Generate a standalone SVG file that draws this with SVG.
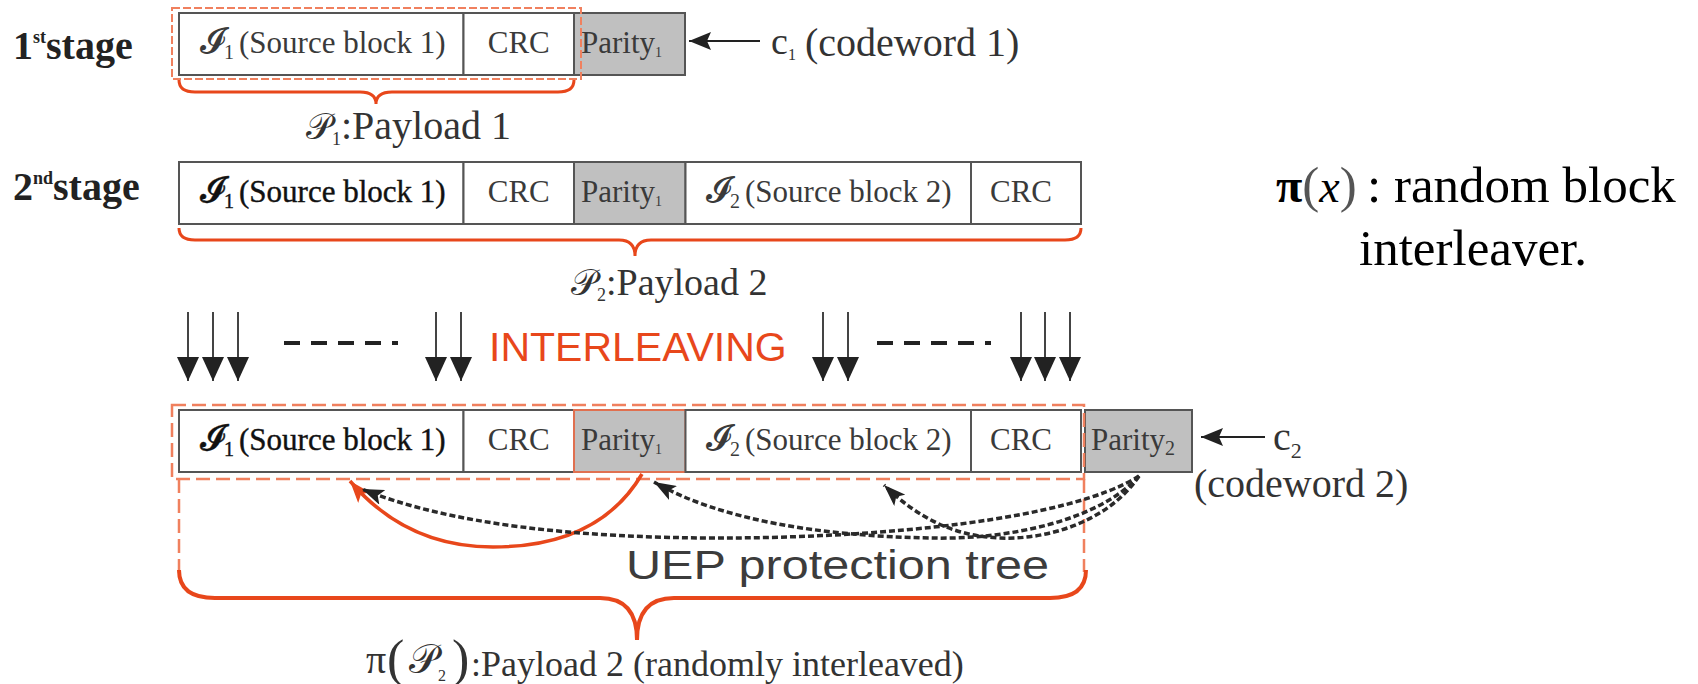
<svg xmlns="http://www.w3.org/2000/svg" width="1698" height="684" viewBox="0 0 1698 684">
<style>
.cell{fill:#fff;stroke:#555;stroke-width:2}
.par{fill:#c0c0c0;stroke:#555;stroke-width:2}
.t{font-family:"Liberation Serif",serif;font-size:31px;fill:#3a3a3a}
.tb{font-family:"Liberation Serif",serif;font-size:31px;fill:#111;stroke:#111;stroke-width:0.4}
.scr{font-family:"DejaVu Serif","DejaVu Sans",serif}
.stage{font-family:"Liberation Serif",serif;font-weight:bold;font-size:40px;fill:#222}
.lbl{font-family:"Liberation Serif",serif;fill:#333}
.brace{fill:none;stroke:#e8471b;stroke-width:3}
.dash1{fill:none;stroke:#f0805e;stroke-width:2;stroke-dasharray:8 3}
.dash2{fill:none;stroke:#f0805e;stroke-width:2.5;stroke-dasharray:14 6}
.il{stroke:#444;stroke-width:2;marker-end:url(#ah)}
.dl{stroke:#222;stroke-width:4;stroke-dasharray:16 11}
.dc{fill:none;stroke:#2a2a2a;stroke-width:3.5;stroke-dasharray:6 3;marker-end:url(#ab)}
</style>
<defs>
<marker id="ah" markerUnits="userSpaceOnUse" markerWidth="24" markerHeight="22" viewBox="0 0 24 22" refX="24" refY="11" orient="auto"><path d="M0,0 L24,11 L0,22 z" fill="#222"/></marker>
<marker id="ac" markerUnits="userSpaceOnUse" markerWidth="22" markerHeight="18" viewBox="0 0 22 18" refX="22" refY="9" orient="auto"><path d="M0,0 L22,9 L0,18 L4,9 z" fill="#222"/></marker>
<marker id="ab" markerUnits="userSpaceOnUse" markerWidth="22" markerHeight="16" viewBox="0 0 22 16" refX="22" refY="8" orient="auto"><path d="M0,0 L22,8 L0,16 L5,8 z" fill="#222"/></marker>
<marker id="ao" markerUnits="userSpaceOnUse" markerWidth="22" markerHeight="16" viewBox="0 0 22 16" refX="22" refY="8" orient="auto"><path d="M0,0 L22,8 L0,16 L5,8 z" fill="#e8471b"/></marker>
</defs>

<g id="stage1">
<text class="stage" x="13" y="59">1<tspan font-size="18" dy="-16">st</tspan><tspan dy="16">stage</tspan></text>
</g>
<g id="stage2">
<text class="stage" x="13" y="200">2<tspan font-size="18" dy="-16">nd</tspan><tspan dy="16">stage</tspan></text>
</g>

<g id="row1">
<rect class="cell" x="179" y="13" width="284.5" height="62"/>
<rect class="cell" x="463.5" y="13" width="110.5" height="62"/>
<rect class="par" x="574" y="13" width="111" height="62"/>
<text class="t" x="200" y="53"><tspan class="scr" font-size="36">𝓘</tspan><tspan x="224" font-size="20" dy="6">1</tspan><tspan x="239" dy="-6">(Source block 1)</tspan></text>
<text class="t" x="518.75" y="53" text-anchor="middle">CRC</text>
<text class="t" x="581" y="53">Parity<tspan font-size="14" dy="4">1</tspan></text>
<rect class="dash1" x="172" y="8" width="409" height="71"/>
<path class="brace" d="M179,80 Q179,92 195,92 L360,92 Q376,92 376,104 Q376,92 392,92 L558,92 Q574,92 574,80"/>
<text class="lbl" x="306" y="139" style="font-size:40px"><tspan class="scr" font-size="36">𝒫</tspan><tspan font-size="18" dy="6">1</tspan><tspan dy="-6">:Payload 1</tspan></text>
</g>

<g id="c1">
<line x1="760" y1="41" x2="689" y2="41" stroke="#222" stroke-width="2" marker-end="url(#ac)"/>
<text class="lbl" x="771" y="54" style="font-size:38px">c<tspan font-size="16" dy="6">1</tspan></text>
<text class="lbl" x="805" y="56" style="font-size:40px">(codeword 1)</text>
</g>

<g id="row2">
<rect class="cell" x="179" y="162" width="284.5" height="62"/>
<rect class="cell" x="463.5" y="162" width="110.5" height="62"/>
<rect class="par" x="574" y="162" width="111.5" height="62"/>
<rect class="cell" x="685.5" y="162" width="285.5" height="62"/>
<rect class="cell" x="971" y="162" width="110" height="62"/>
<text class="tb" x="200" y="202"><tspan class="scr" font-size="36">𝓘</tspan><tspan x="224" font-size="20" dy="6">1</tspan><tspan x="239" dy="-6">(Source block 1)</tspan></text>
<text class="t" x="518.75" y="202" text-anchor="middle">CRC</text>
<text class="t" x="581" y="202">Parity<tspan font-size="14" dy="4">1</tspan></text>
<text class="t" x="706" y="202"><tspan class="scr" font-size="36">𝓘</tspan><tspan x="730" font-size="20" dy="6">2</tspan><tspan x="745" dy="-6">(Source block 2)</tspan></text>
<text class="t" x="1021" y="202" text-anchor="middle">CRC</text>
<path class="brace" d="M179,228 Q179,240 195,240 L619,240 Q635,240 635,256 Q635,240 651,240 L1065,240 Q1081,240 1081,228"/>
<text class="lbl" x="571" y="295" style="font-size:38px"><tspan class="scr" font-size="36">𝒫</tspan><tspan font-size="18" dy="6">2</tspan><tspan dy="-6">:Payload 2</tspan></text>
</g>

<g id="pi-note">
<text x="1276" y="202" font-family="'Liberation Serif',serif" font-size="51" fill="#000"><tspan font-weight="bold" font-size="48">π</tspan><tspan fill="#555">(</tspan><tspan font-style="italic" font-size="46">x</tspan><tspan fill="#555">)</tspan><tspan x="1367">: random block</tspan></text>
<text x="1359" y="265" font-family="'Liberation Serif',serif" font-size="51" fill="#000">interleaver.</text>
</g>

<g id="interleaving">
<line class="il" x1="188" y1="312" x2="188" y2="381"/>
<line class="il" x1="213" y1="312" x2="213" y2="381"/>
<line class="il" x1="238" y1="312" x2="238" y2="381"/>
<line class="il" x1="436" y1="312" x2="436" y2="381"/>
<line class="il" x1="461" y1="312" x2="461" y2="381"/>
<line class="il" x1="823" y1="312" x2="823" y2="381"/>
<line class="il" x1="848" y1="312" x2="848" y2="381"/>
<line class="il" x1="1021" y1="312" x2="1021" y2="381"/>
<line class="il" x1="1045" y1="312" x2="1045" y2="381"/>
<line class="il" x1="1070" y1="312" x2="1070" y2="381"/>
<line class="dl" x1="284" y1="343" x2="398" y2="343"/>
<line class="dl" x1="877" y1="343" x2="991" y2="343"/>
<text x="489" y="361" font-family="'Liberation Sans',sans-serif" font-size="41" fill="#e8471b">INTERLEAVING</text>
</g>

<g id="row3">
<rect class="cell" x="179" y="410" width="284.5" height="62"/>
<rect class="cell" x="463.5" y="410" width="110.5" height="62"/>
<rect class="par" x="574" y="410" width="111.5" height="62" style="stroke:#e07050"/>
<rect class="cell" x="685.5" y="410" width="285.5" height="62"/>
<rect class="cell" x="971" y="410" width="110" height="62"/>
<rect class="par" x="1085" y="410" width="107" height="62"/>
<text class="tb" x="200" y="450"><tspan class="scr" font-size="36">𝓘</tspan><tspan x="224" font-size="20" dy="6">1</tspan><tspan x="239" dy="-6">(Source block 1)</tspan></text>
<text class="t" x="518.75" y="450" text-anchor="middle">CRC</text>
<text class="t" x="581" y="450">Parity<tspan font-size="14" dy="4">1</tspan></text>
<text class="t" x="706" y="450"><tspan class="scr" font-size="36">𝓘</tspan><tspan x="730" font-size="20" dy="6">2</tspan><tspan x="745" dy="-6">(Source block 2)</tspan></text>
<text class="t" x="1021" y="450" text-anchor="middle">CRC</text>
<text class="t" x="1091" y="450">Parity<tspan font-size="20" dy="5">2</tspan></text>
<rect class="dash2" x="172" y="405" width="912" height="74"/>
<line class="dash2" x1="179" y1="479" x2="179" y2="575"/>
<line class="dash2" x1="1084" y1="479" x2="1084" y2="572"/>
</g>

<g id="c2">
<line x1="1265" y1="437" x2="1201" y2="437" stroke="#222" stroke-width="2" marker-end="url(#ac)"/>
<text class="lbl" x="1273" y="450" style="font-size:40px">c<tspan font-size="22" dy="8">2</tspan></text>
<text class="lbl" x="1194" y="497" style="font-size:40px">(codeword 2)</text>
</g>

<g id="connectors">
<path d="M642,474 C612,525 560,547 493,547 C430,547 385,522 350,481" fill="none" stroke="#e8471b" stroke-width="3.5" marker-end="url(#ao)"/>
<path class="dc" d="M1139,476 C1070,520 880,538 720,538 C580,538 450,525 362,489"/>
<path class="dc" d="M1139,476 C1100,520 1010,540 930,538 C820,536 720,520 654,482"/>
<path class="dc" d="M1139,476 C1110,520 1050,540 1000,538 C950,536 915,515 884,485"/>
</g>

<g id="bottom">
<text x="626" y="579" font-family="'Liberation Sans',sans-serif" font-size="41" fill="#3c3c3c" textLength="423" lengthAdjust="spacingAndGlyphs">UEP protection tree</text>
<path class="brace" style="stroke-width:4" d="M179,570 Q179,598 215,598 L600,598 Q637,598 637,640 Q637,598 674,598 L1050,598 Q1086,598 1086,570"/>
<text class="lbl" x="366" y="673" style="font-size:36px"><tspan font-size="40">π</tspan><tspan x="387" font-size="52" dy="3">(</tspan><tspan x="409" class="scr" font-size="40" dy="-3">𝒫</tspan><tspan font-size="16" dy="8">2</tspan><tspan x="452" font-size="52" dy="-5">)</tspan><tspan x="471">:Payload 2 (randomly interleaved)</tspan></text>
</g>
</svg>
